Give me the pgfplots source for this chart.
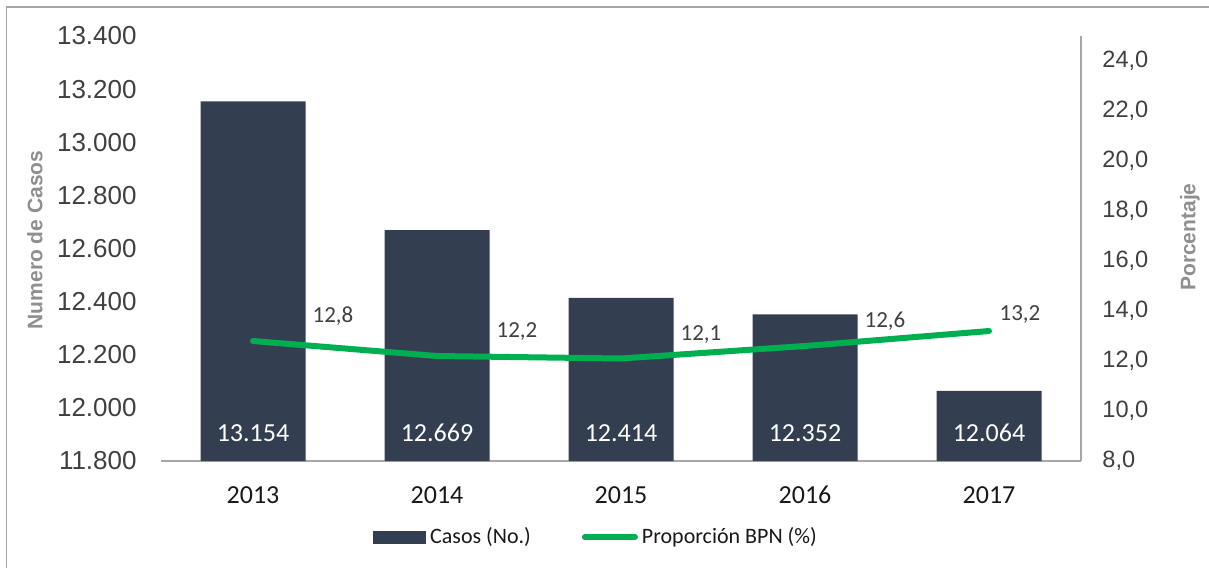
\documentclass[border=0pt]{standalone}
\usepackage{pgfplots}
\pgfplotsset{compat=1.18}
\usepackage{fontspec}
\setmainfont{Liberation Sans}
\newfontfamily\carlito{Carlito}
\definecolor{barcol}{HTML}{333F50}
\definecolor{linecol}{HTML}{00B050}
\definecolor{axcol}{HTML}{A6A6A6}
\definecolor{ticktext}{HTML}{404040}
\definecolor{titlecol}{HTML}{8F8F8F}
\begin{document}
\begin{tikzpicture}
\useasboundingbox (0,0) rectangle (604.5pt,-284pt);
\draw[axcol, line width=0.8pt] (3.25pt,-284pt) -- (3.25pt,-3.5pt) -- (604.5pt,-3.5pt);
\begin{axis}[
  at={(80.5pt,-230.5pt)}, anchor=south west,
  scale only axis, width=460pt, height=212.5pt,
  xmin=-0.5, xmax=4.5, ymin=11800, ymax=13400,
  ytick={11800,12000,...,13400},
  scaled y ticks=false,
  xtick={0,...,4}, xticklabels={2013,2014,2015,2016,2017},
  axis lines*=left, axis line style={-},
  x axis line style={draw=axcol, line width=0.6pt},
  y axis line style={draw=none},
  major tick length=0pt,
  tick style={draw=none},
  /pgf/number format/1000 sep={.},
  /pgf/number format/assume math mode=true,
  yticklabel style={font=\fontsize{13}{15}\selectfont, color=ticktext, inner sep=0pt, xshift=-12pt, anchor=east},
  xticklabel style={font=\carlito\fontsize{13}{15}\selectfont, color=black!90, inner sep=0pt, anchor=base, yshift=-21pt},
  ylabel={Numero de Casos},
  ylabel style={font=\bfseries\fontsize{10.5}{12}\selectfont, color=titlecol, at={(axis description cs:-0.137,0.52)}, anchor=center},
]
\addplot[ybar, bar width=52.5pt, fill=barcol, draw=none] coordinates {(0,13154) (1,12669) (2,12414) (3,12352) (4,12064)};
\addplot[draw=none, mark=none, nodes near coords, point meta=explicit symbolic,
  every node near coord/.append style={font=\carlito\fontsize{13}{15}\selectfont, color=white, anchor=base, yshift=10pt, inner sep=0pt}]
  coordinates {(0,11800)[13.154] (1,11800)[12.669] (2,11800)[12.414] (3,11800)[12.352] (4,11800)[12.064]};
\end{axis}
\begin{axis}[
  at={(80.5pt,-230.5pt)}, anchor=south west,
  scale only axis, width=460pt, height=212.5pt,
  xmin=-0.5, xmax=4.5, ymin=8, ymax=25,
  ytick={8,10,...,24},
  axis y line*=right, axis x line=none,
  axis line style={-, draw=axcol, line width=0.6pt},
  major tick length=0pt,
  tick style={draw=none},
  /pgf/number format/fixed,
  /pgf/number format/fixed zerofill,
  /pgf/number format/precision=1,
  /pgf/number format/use comma,
  /pgf/number format/assume math mode=true,
  yticklabel style={font=\fontsize{11.8}{13}\selectfont, color=ticktext, inner sep=0pt, xshift=10.5pt, anchor=west},
  ylabel={Porcentaje},
  ylabel style={font=\bfseries\fontsize{10.5}{12}\selectfont, color=titlecol, at={(axis description cs:1.1185,0.527)}, anchor=center},
  legend style={draw=none, fill=none, at={(0.2304,-0.1788)}, anchor=west, legend columns=2,
    font=\carlito\fontsize{11}{13}\selectfont, text=black!90, inner sep=0pt,
    /tikz/every even column/.append style={column sep=23.5pt}},
  legend cell align=left,
]
\addplot[forget plot, linecol, line width=3pt, line cap=round, line join=round, mark=none] coordinates {(0,12.8) (1,12.2) (2,12.1) (3,12.6) (4,13.2)};
\addplot[forget plot, draw=none, mark=none, nodes near coords, point meta=explicit symbolic,
  every node near coord/.append style={font=\carlito\fontsize{11.5}{13}\selectfont, color=ticktext, anchor=base, xshift=40pt, yshift=9.25pt, inner sep=0pt}]
  coordinates {(0,12.8)[12,8] (1,12.2)[12,2] (2,12.1)[12,1] (3,12.6)[12,6]};
\addplot[forget plot, draw=none, mark=none, nodes near coords, point meta=explicit symbolic,
  every node near coord/.append style={font=\carlito\fontsize{11.5}{13}\selectfont, color=ticktext, anchor=base, xshift=15.5pt, yshift=5.5pt, inner sep=0pt}]
  coordinates {(4,13.2)[13,2]};
\addlegendimage{legend image code/.code={\fill[barcol] (0pt,-3pt) rectangle (26pt,3pt);}}
\addlegendentry{Casos (No.)}
\addlegendimage{legend image code/.code={\draw[linecol, line width=3pt, line cap=round] (1.5pt,0pt) -- (26.5pt,0pt);}}
\addlegendentry{Proporción BPN (\%)}
\end{axis}
\end{tikzpicture}
\end{document}
